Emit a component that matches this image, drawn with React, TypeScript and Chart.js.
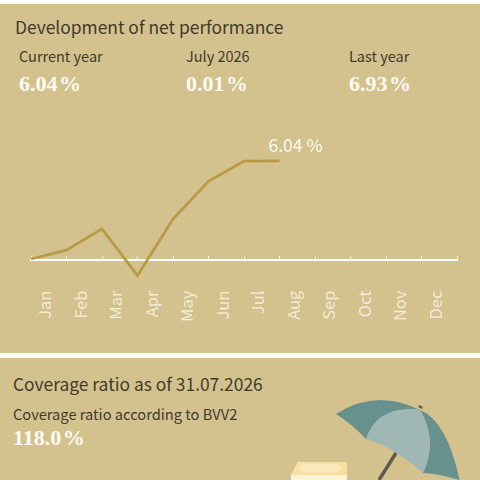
import React, { useEffect, useRef } from 'react';
import Chart from 'chart.js/auto';

const months: string[] = ['Jan', 'Feb', 'Mar', 'Apr', 'May', 'Jun', 'Jul', 'Aug', 'Sep', 'Oct', 'Nov', 'Dec'];
const monthEnds: number[] = [0, 1, 2, 3, 4, 5, 6, 7];
const performance: number[] = [0.06, 0.6, 1.9, -0.95, 2.5, 4.8, 6.03, 6.04];
const lastLabel = '6.04 %';

const sans = '"Noto Sans CJK SC", "Noto Sans", sans-serif';
const serif = '"Liberation Serif", serif';
const tan = '#d4c28e';
const dark = '#3f3b2c';

const lastValueLabel = {
  id: 'lastValueLabel',
  afterDatasetsDraw(chart: any) {
    const pts = chart.getDatasetMeta(0).data;
    const last = pts[pts.length - 1];
    const ctx = chart.ctx;
    ctx.save();
    ctx.fillStyle = '#fdfbf2';
    ctx.font = `17.5px ${sans}`;
    ctx.textAlign = 'left';
    ctx.fillText(lastLabel, last.x - 11, last.y - 9);
    ctx.restore();
  },
};

const text = (left: number, top: number, size: number, color: string, family: string, bold: boolean, value: string) => (
  <div
    style={{
      position: 'absolute',
      left,
      top,
      fontSize: size,
      lineHeight: `${Math.round(size) + 4}px`,
      color,
      fontFamily: family,
      fontWeight: bold ? 700 : 400,
      whiteSpace: 'nowrap',
      wordSpacing: bold ? -4 : 0,
    }}
  >
    {value}
  </div>
);

const App: React.FC = () => {
  const canvasRef = useRef<HTMLCanvasElement>(null);

  useEffect(() => {
    document.body.style.margin = '0';
    if (!canvasRef.current) return;
    const chart = new Chart(canvasRef.current, {
      type: 'line',
      data: {
        labels: months,
        datasets: [
          {
            data: monthEnds.map((m, i) => ({ x: m, y: performance[i] })),
            xAxisID: 'x',
            yAxisID: 'y',
            borderColor: '#b79a43',
            borderWidth: 2.8,
            pointRadius: 0,
            tension: 0,
            clip: false,
          },
        ],
      },
      options: {
        animation: false,
        responsive: false,
        layout: { padding: { left: 31, right: 23, top: 7, bottom: 0 } },
        plugins: { legend: { display: false }, tooltip: { enabled: false } },
        scales: {
          x: {
            type: 'linear',
            min: 0,
            max: 12,
            position: { y: 0 },
            ticks: { display: false, stepSize: 1 },
            grid: { drawOnChartArea: false, drawTicks: true, tickLength: -5, tickColor: '#ffffff', tickWidth: 1 },
            border: { color: '#ffffff', width: 2 },
          },
          months: {
            type: 'category',
            position: 'bottom',
            offset: true,
            labels: months,
            grid: { display: false },
            border: { display: false },
            ticks: {
              color: '#f3ecd6',
              font: { family: sans, size: 16.5 },
              minRotation: 90,
              maxRotation: 90,
              autoSkip: false,
              padding: -2,
              labelOffset: -4,
            },
            afterFit(scale: any) {
              scale.height = 45.4;
            },
          },
          y: {
            display: false,
            min: -1.5,
            max: 7.5,
          },
        },
      },
      plugins: [lastValueLabel],
    } as any);
    return () => chart.destroy();
  }, []);

  return (
    <div style={{ position: 'relative', width: 480, height: 480, overflow: 'hidden', background: '#ffffff' }}>
      <div style={{ position: 'absolute', left: 0, top: 4, width: 480, height: 349, background: tan }} />
      <div style={{ position: 'absolute', left: 0, top: 358, width: 480, height: 122, background: tan }} />

      {text(15, 16, 17.4, dark, sans, false, 'Development of net performance')}
      {text(19, 46, 14.5, dark, sans, false, 'Current year')}
      {text(186, 46, 14.5, dark, sans, false, 'July 2026')}
      {text(349, 46, 14.5, dark, sans, false, 'Last year')}
      {text(19, 71, 22, '#fdfbf2', serif, true, '6.04 %')}
      {text(186, 71, 22, '#fdfbf2', serif, true, '0.01 %')}
      {text(349, 71, 22, '#fdfbf2', serif, true, '6.93 %')}

      <canvas ref={canvasRef} width={480} height={200} style={{ position: 'absolute', left: 0, top: 130, width: 480, height: 200 }} />

      {text(13, 373, 17.4, dark, sans, false, 'Coverage ratio as of 31.07.2026')}
      {text(13, 404, 14.65, dark, sans, false, 'Coverage ratio according to BVV2')}
      {text(13, 425, 22, '#fdfbf2', serif, true, '118.0 %')}

      <svg width={480} height={480} style={{ position: 'absolute', left: 0, top: 0 }}>
        <path d="M396,453 L379,480" stroke="#5f5a50" strokeWidth={3.5} fill="none" />
        <path d="M420,408 L421,406" stroke="#5f5a50" strokeWidth={4} fill="none" />
        <path d="M336,414 Q376,388 420,410 Q380,405 366,439 Q352,424 336,414 Z" fill="#66918c" />
        <path d="M420,410 Q447,421 459.5,480 Q440,474 423,473 Q438,440 420,410 Z" fill="#66918c" />
        <path d="M366,439 Q377,405 420,410 Q438,440 423,473 Q395,448 366,439 Z" fill="#a0b8b5" />
        <path d="M291,480 L291,475 L298,462 L347,462 L347,480 Z" fill="#fff4d6" />
        <path d="M298,462 L347,462 L347,475 L291,475 Z" fill="#f9dfa2" />
        <path d="M303,464 L338,464 L342,468 L338,472 L300,472 L297,468 Z" fill="#fbe9ba" />
      </svg>
    </div>
  );
};

export default App;
